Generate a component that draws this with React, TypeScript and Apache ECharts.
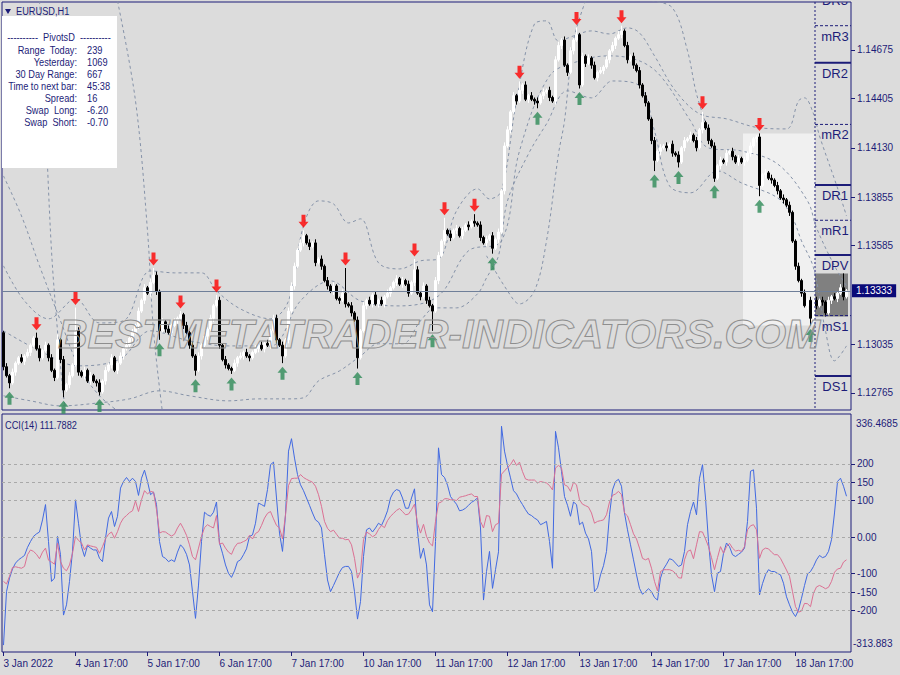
import React, { useEffect, useRef } from "react";
import * as echarts from "echarts";

const tickLabels = ["3 Jan 2022", "4 Jan 17:00", "5 Jan 17:00", "6 Jan 17:00", "7 Jan 17:00", "10 Jan 17:00", "11 Jan 17:00", "12 Jan 17:00", "13 Jan 17:00", "14 Jan 17:00", "17 Jan 17:00", "18 Jan 17:00"];

const firstOpen = 1.131;
const closes = [
  1.1291, 1.1286, 1.1282, 1.1288, 1.1293, 1.1296, 1.1294, 1.1297, 1.1299, 1.1303, 1.1307, 1.1301, 1.1296, 1.13, 1.1303, 1.1296, 1.1289, 1.1285, 1.1306, 1.1295, 1.1278, 1.1281, 1.1286, 1.1292,
  1.1311, 1.1288, 1.1286, 1.1289, 1.1283, 1.1286, 1.1283, 1.1282, 1.1277, 1.1283, 1.1289, 1.1292, 1.1296, 1.1289, 1.1293, 1.1297, 1.1301, 1.1303, 1.1307, 1.131, 1.1314, 1.1322, 1.1328, 1.1335,
  1.1332, 1.1338, 1.1342, 1.1333, 1.1311, 1.1316, 1.1312, 1.131, 1.1314, 1.1317, 1.1318, 1.132, 1.1314, 1.131, 1.1303, 1.1297, 1.1289, 1.1297, 1.1303, 1.1308, 1.1312, 1.1318, 1.1325, 1.1328,
  1.1303, 1.1295, 1.1292, 1.129, 1.1289, 1.1293, 1.1296, 1.1297, 1.1299, 1.1297, 1.1296, 1.1299, 1.1301, 1.1303, 1.1301, 1.1304, 1.1303, 1.1311, 1.1318, 1.1306, 1.1303, 1.1297, 1.1306, 1.1322,
  1.1336, 1.1347, 1.1356, 1.136, 1.1364, 1.136, 1.1358, 1.136, 1.1349, 1.1351, 1.1347, 1.1339, 1.1336, 1.1333, 1.1336, 1.1329, 1.1328, 1.1332, 1.1326, 1.1325, 1.1321, 1.1317, 1.1296, 1.1311,
  1.1325, 1.1328, 1.1326, 1.1331, 1.1326, 1.1328, 1.1326, 1.133, 1.1332, 1.1335, 1.1338, 1.134, 1.1337, 1.1339, 1.1337, 1.1332, 1.1338, 1.1345, 1.1332, 1.133, 1.1336, 1.1328, 1.1325, 1.1322,
  1.1339, 1.1353, 1.1361, 1.1367, 1.1365, 1.1363, 1.1367, 1.1368, 1.1364, 1.1367, 1.137, 1.1369, 1.1372, 1.1371, 1.137, 1.1363, 1.136, 1.1362, 1.1364, 1.1357, 1.1362, 1.1366, 1.1389, 1.1414,
  1.1423, 1.1433, 1.1442, 1.1439, 1.1445, 1.1448, 1.144, 1.1442, 1.144, 1.1439, 1.1438, 1.1442, 1.1444, 1.1445, 1.1441, 1.1439, 1.1462, 1.147, 1.1473, 1.1459, 1.1455, 1.1467, 1.1473, 1.1476,
  1.1448, 1.1464, 1.146, 1.1463, 1.1459, 1.1452, 1.1455, 1.1456, 1.1458, 1.1462, 1.1467, 1.147, 1.1474, 1.1476, 1.1478, 1.147, 1.1462, 1.1464, 1.1459, 1.1456, 1.1448, 1.1442, 1.1438, 1.1429,
  1.1417, 1.1406, 1.1411, 1.1413, 1.1414, 1.1413, 1.1415, 1.141, 1.1409, 1.1405, 1.1413, 1.1417, 1.1418, 1.142, 1.1417, 1.1413, 1.1423, 1.1427, 1.1424, 1.1417, 1.1414, 1.1396, 1.1403, 1.1406,
  1.1405, 1.141, 1.1411, 1.1408, 1.1405, 1.1407, 1.1405, 1.1406, 1.141, 1.1414, 1.1418, 1.1419, 1.1392, 1.1398, 1.1399, 1.1396, 1.1395, 1.1392, 1.1389, 1.1385, 1.1384, 1.1381, 1.1377, 1.1361,
  1.1347, 1.1339, 1.1332, 1.1325, 1.1328, 1.1318, 1.1328, 1.1325, 1.1328, 1.1327, 1.1321, 1.1328, 1.133, 1.1329, 1.1332, 1.1335, 1.133, 1.13333,
];
// wick lengths in pips above max(open, close) and below min(open, close)
const upWick = [
  1, 2, 1, 2, 1, 1, 2, 1, 2, 1, 1, 3, 2, 1, 2, 1, 2, 1, 3, 1, 2, 1, 2, 1,
  13, 2, 1, 2, 1, 2, 1, 1, 2, 1, 2, 1, 2, 1, 1, 2, 1, 2, 1, 2, 1, 2, 1, 2,
  1, 2, 4, 2, 1, 2, 1, 2, 1, 1, 1, 2, 1, 2, 1, 2, 1, 2, 1, 2, 1, 2, 1, 3,
  2, 1, 2, 1, 1, 2, 1, 2, 1, 2, 1, 1, 2, 1, 2, 1, 2, 1, 2, 2, 1, 2, 1, 2,
  2, 2, 1, 2, 3, 1, 2, 1, 2, 1, 2, 1, 2, 1, 2, 1, 1, 2, 14, 1, 2, 1, 2, 1,
  2, 1, 2, 1, 2, 1, 2, 1, 2, 1, 1, 2, 1, 2, 1, 2, 1, 6, 2, 1, 2, 1, 2, 1,
  2, 2, 1, 7, 1, 2, 1, 2, 1, 2, 1, 2, 1, 4, 1, 2, 1, 2, 1, 2, 1, 2, 1, 2,
  2, 1, 2, 1, 5, 1, 2, 1, 2, 1, 2, 1, 2, 1, 2, 1, 2, 2, 1, 2, 1, 2, 1, 4,
  1, 2, 1, 2, 1, 2, 1, 2, 1, 2, 1, 2, 1, 2, 3, 1, 2, 1, 2, 1, 2, 1, 2, 1,
  1, 2, 1, 2, 1, 2, 1, 2, 1, 2, 1, 2, 1, 2, 1, 2, 1, 6, 1, 2, 1, 2, 1, 2,
  1, 2, 1, 2, 1, 2, 1, 2, 1, 2, 1, 1, 2, 1, 2, 1, 2, 1, 2, 1, 2, 1, 2, 1,
  1, 2, 1, 2, 1, 2, 1, 2, 1, 2, 1, 2, 1, 2, 1, 2, 8, 1,
];
const dnWick = [
  2, 1, 3, 1, 2, 1, 1, 2, 1, 2, 1, 1, 2, 1, 1, 2, 1, 2, 1, 2, 4, 1, 2, 1,
  1, 2, 1, 2, 1, 2, 1, 2, 2, 1, 2, 1, 2, 1, 2, 1, 2, 1, 1, 2, 1, 2, 1, 2,
  1, 2, 1, 2, 5, 1, 2, 1, 2, 1, 2, 1, 2, 1, 2, 1, 3, 1, 2, 1, 2, 1, 2, 1,
  2, 1, 2, 1, 2, 1, 2, 1, 2, 1, 2, 1, 1, 2, 1, 2, 1, 2, 1, 2, 1, 4, 1, 2,
  1, 2, 1, 1, 2, 1, 2, 1, 2, 1, 2, 1, 2, 1, 2, 1, 2, 1, 2, 1, 2, 1, 6, 1,
  1, 2, 1, 2, 1, 2, 1, 2, 1, 2, 1, 2, 1, 2, 1, 2, 1, 2, 1, 2, 1, 2, 1, 11,
  1, 2, 1, 2, 1, 2, 1, 2, 1, 2, 1, 2, 1, 2, 1, 2, 1, 2, 1, 3, 1, 2, 1, 2,
  1, 2, 1, 2, 1, 2, 1, 2, 1, 2, 3, 1, 2, 1, 2, 1, 2, 1, 2, 1, 2, 1, 2, 1,
  2, 1, 2, 1, 2, 1, 2, 1, 2, 1, 2, 1, 2, 1, 2, 1, 2, 1, 2, 1, 2, 1, 2, 1,
  2, 6, 1, 2, 1, 2, 1, 2, 1, 3, 1, 2, 1, 2, 1, 2, 1, 2, 1, 2, 1, 2, 1, 2,
  1, 2, 1, 2, 1, 2, 1, 2, 1, 2, 1, 2, 6, 1, 2, 1, 2, 1, 2, 1, 2, 1, 2, 1,
  2, 1, 2, 1, 2, 4, 1, 2, 1, 2, 2, 1, 2, 1, 2, 1, 2, 1,
];

const downFractalBars = [11, 24, 50, 59, 71, 100, 114, 137, 147, 157, 172, 191, 206, 233, 252];
const upFractalBars = [2, 20, 32, 52, 64, 76, 93, 118, 143, 163, 178, 192, 217, 225, 237, 252, 269];

const cciMain = [
  -295, -149, -112, -87, -71, -62, -56, -50, -28, -12, 2, 9, 14, 47, 89, -12, -121, -112, 2, -48, -213, -185, -121, -39,
  102, 38, -26, -53, -23, -30, -35, -35, -58, -67, -3, 52, 70, 29, 57, 134, 152, 163, 152, 161, 152, 114, 161, 183,
  152, 116, 123, 89, -12, -53, -58, -67, -62, -67, -41, -21, -30, -47, -76, -149, -222, -131, -12, 68, 61, 57, 68, 96,
  -16, -44, -76, -99, -110, -92, -67, -62, -48, -32, 2, 6, 38, 93, 89, 84, 130, 198, 205, 107, 11, -39, 61, 235,
  269, 216, 171, 143, 127, 107, 87, 66, 47, 41, 25, -48, -117, -149, -132, -114, -96, -83, -80, -80, -94, -149, -224, -176,
  -53, 20, 25, 14, 25, 38, 32, 50, 72, 107, 123, 130, 127, 107, 79, 79, 107, 132, 16, -58, -30, -76, -185, -204,
  -12, 244, 171, 163, 142, 111, 100, 90, 72, 74, 79, 87, 95, 100, 107, 25, -172, -94, -39, -140, -89, -40, 303, 235,
  196, 162, 127, 118, 102, 89, 75, 63, 59, 52, 47, 34, 38, 43, -12, -85, 289, 244, 180, 111, 87, 57, 96, 89,
  34, 41, 11, -5, -39, -149, -138, -103, -78, -39, 61, 129, 152, 158, 139, 66, 20, -21, -62, -103, -140, -156, -149, -141,
  -149, -165, -172, -112, -87, -74, -59, -62, -71, -80, -76, -39, 34, 70, 96, 61, 161, 198, 107, -12, -103, -149, -98, -94,
  -44, -16, -26, -48, -53, -47, -41, -30, 43, 180, 184, 79, -158, -127, -103, -89, -94, -94, -99, -103, -126, -163, -185, -205,
  -217, -199, -167, -132, -101, -94, -80, -62, -50, -56, -53, -39, -7, 66, 152, 161, 139, 111.7882,
];
const cciSignal = [
  -121, -128, -107, -83, -81, -83, -85, -80, -48, -35, -39, -47, -59, -41, -30, -63, -68, -74, -16, -67, -85, -92, -76, -44,
  2, -9, -16, -35, -21, -24, -26, -28, -44, -26, -5, 8, 14, -3, 15, 38, 52, 59, 67, 72, 99, 70, 102, 127,
  118, 125, 123, 75, 11, 15, 14, 8, 3, 8, 25, 38, 23, 5, -21, -53, -62, -30, 2, 26, 34, 29, 25, 59,
  -19, -16, -30, -41, -47, -28, -17, -16, -12, -8, 5, -5, 10, 15, 32, 52, 65, 70, 50, 32, 25, -5, 61, 141,
  160, 161, 161, 171, 163, 158, 154, 150, 139, 116, 84, 43, 24, 15, 19, 8, -3, -3, -7, -6, -21, -58, -112, -94,
  -7, 14, 9, 1, 6, 21, 32, 26, 45, 57, 65, 73, 78, 70, 61, 63, 75, 90, 38, 11, 35, 2, -16, -24,
  43, 93, 96, 105, 105, 102, 102, 100, 109, 111, 113, 116, 118, 111, 111, 43, 25, 59, 57, 15, 34, 38, 172, 181,
  190, 198, 212, 196, 205, 179, 159, 156, 156, 156, 148, 152, 150, 148, 141, 129, 189, 196, 189, 143, 139, 125, 150, 143,
  102, 90, 86, 82, 66, 38, 43, 45, 47, 61, 96, 114, 118, 125, 116, 66, 58, 34, 9, -5, -30, -58, -62, -58,
  -85, -121, -147, -94, -89, -89, -89, -92, -99, -111, -112, -62, -39, -35, -59, -21, 15, 14, -5, -26, -56, -89, -56, -26,
  -44, -26, -17, -30, -38, -36, -39, -26, 20, 31, 34, 20, -58, -35, -30, -32, -41, -48, -48, -58, -74, -90, -107, -149,
  -190, -205, -202, -181, -182, -190, -153, -136, -132, -136, -141, -137, -121, -96, -87, -85, -68, -62,
];

const priceTicks = [1.12765, 1.13035, 1.13585, 1.13855, 1.1413, 1.14405, 1.14675];
const priceMin = 1.12669;
const priceMax = 1.14942;
const cciTicks = [200, 150, 100, 0, -100, -150, -200];
const cciMax = 336.4685;
const cciMin = -313.883;

const pivotNames = ["DR3", "mR3", "DR2", "mR2", "DR1", "mR1", "DPV", "mS1", "DS1", "mS2"];
const pivotValues = [1.1501, 1.1481, 1.14603, 1.1426, 1.13923, 1.13726, 1.13533, 1.13195, 1.12859, 1.1266];
const pivotStartBar = 271;
// [startBar, endBar, high, low, kind]
const rangeBoxes = [
  [247, 270, 1.1421, 1.1314, 0],
  [271, 281, 1.1343, 1.1319, 1],
];

const bandUpper = [[0, 1.13472], [7, 1.13277], [15, 1.13177], [24, 1.13288], [32, 1.13154], [40, 1.13166], [49, 1.13444], [57, 1.13433], [66, 1.13433], [71, 1.13333], [79, 1.13232], [89, 1.13177], [95, 1.13277], [100, 1.13695], [105, 1.13834], [110, 1.13817], [115, 1.13711], [119, 1.13734], [125, 1.13489], [132, 1.13455], [139, 1.135], [145, 1.13511], [151, 1.13778], [158, 1.13901], [162, 1.13845], [166, 1.1389], [171, 1.14391], [177, 1.1482], [181, 1.14837], [185, 1.14725], [190, 1.14753], [196, 1.14781], [202, 1.14764], [208, 1.14798], [212, 1.1477], [217, 1.14642], [224, 1.14447], [232, 1.14319], [241, 1.14291], [252, 1.14241], [261, 1.14235], [265, 1.14391], [267, 1.14408], [270, 1.14319], [272, 1.14196], [278, 1.13906], [281, 1.1375]];
const bandMid = [[0, 1.1311], [12, 1.12999], [25, 1.12915], [39, 1.12954], [49, 1.1311], [62, 1.13054], [75, 1.13026], [89, 1.13026], [99, 1.13277], [109, 1.13388], [119, 1.13277], [132, 1.13249], [145, 1.13305], [155, 1.13556], [166, 1.13611], [172, 1.14112], [182, 1.1453], [192, 1.14614], [202, 1.14642], [212, 1.14614], [219, 1.1453], [229, 1.1428], [235, 1.14129], [246, 1.14112], [258, 1.1404], [268, 1.13834], [271, 1.13684], [277, 1.13472], [281, 1.13361]];
const bandLower = [[0, 1.12748], [9, 1.1272], [19, 1.12692], [32, 1.12709], [42, 1.12731], [52, 1.12776], [62, 1.12748], [75, 1.1272], [85, 1.12731], [95, 1.12731], [100, 1.12737], [105, 1.12831], [112, 1.12887], [119, 1.1297], [125, 1.13038], [133, 1.13038], [139, 1.13166], [144, 1.13238], [151, 1.13238], [158, 1.13316], [161, 1.13405], [165, 1.13528], [168, 1.13834], [175, 1.14096], [181, 1.14263], [188, 1.14447], [196, 1.14408], [203, 1.14502], [212, 1.14475], [217, 1.14224], [222, 1.13918], [229, 1.13879], [238, 1.14001], [246, 1.13934], [258, 1.13851], [263, 1.13739], [266, 1.13611], [270, 1.13461], [274, 1.1311], [277, 1.12943], [281, 1.13026]];
const wildA = [[0, 1.13973], [6, 1.1375], [12, 1.13472], [19, 1.13166], [25, 1.12915], [32, 1.12748], [39, 1.12653]];
const wildB = [[12, 1.14948], [14, 1.1428], [16, 1.13556], [18, 1.1311], [20, 1.12748], [21, 1.12653]];
const wildC = [[38, 1.14948], [44, 1.14391], [48, 1.13667], [50, 1.1311], [53, 1.12653]];
const wildD = [[161, 1.13528], [168, 1.13333], [172, 1.1326], [177, 1.13333], [181, 1.13611], [185, 1.14096], [187, 1.1428], [190, 1.14725], [194, 1.14948]];
const wildE = [[216, 1.14948], [223, 1.14909], [228, 1.1467], [231, 1.1443], [235, 1.14224]];

const infoLabels = ["Range  Today:", "Yesterday:", "30 Day Range:", "Time to next bar:", "Spread:", "Swap  Long:", "Swap  Short:"];
const infoValues = ["239", "1069", "667", "45:38", "16", "-6.20", "-0.70"];

const NAVY = "#1c1c78";
const FONT = '"Liberation Sans", Arial, sans-serif';
const BG = "#dcdcdc";
const NARROW = 0.84;

export default function App() {
  const ref = useRef<HTMLDivElement>(null);
  useEffect(() => {
    if (!ref.current) return;
    const chart = echarts.init(ref.current, undefined, { renderer: "svg" });
    const nBars = closes.length;
    const cats = Array.from({ length: nBars + 1 }, (_, i) => String(i));
    const opens = closes.map((c, i) => (i === 0 ? firstOpen : closes[i - 1]));
    const highs = closes.map((c, i) => Math.max(opens[i], c) + upWick[i] / 10000);
    const lows = closes.map((c, i) => Math.min(opens[i], c) - dnWick[i] / 10000);
    const candles = closes.map((c, i) => [opens[i], c, lows[i], highs[i]]);
    const lastPrice = closes[nBars - 1];

    const bandStyle = { color: "#8592a8", width: 1, type: [3, 3] as any };
    const band = (name: string, data: number[][], extra: any = {}) => ({
      name, type: "line", xAxisIndex: 0, yAxisIndex: 0, data, smooth: 0.35, symbol: "none",
      lineStyle: bandStyle, z: 2, silent: true, connectNulls: true, ...extra,
    });

    const downArrow = "path://M3,0 L7,0 L7,7 L10,7 L5,13 L0,7 L3,7 Z";
    const upArrow = "path://M5,0 L10,6 L7,6 L7,13 L3,13 L3,6 L0,6 Z";

    const txt = { fontSize: 11, fontFamily: FONT, fill: NAVY, textVerticalAlign: "middle", verticalAlign: "middle" };

    const graphics: any[] = [
      { type: "rect", z: 100, shape: { x: 2, y: 16, width: 115, height: 152 }, style: { fill: "#ffffff" }, silent: true },
      { type: "text", z: 101, x: 59, y: 37, scaleX: NARROW, style: { ...txt, text: "----------  PivotsD  ----------", textAlign: "center", align: "center" } },
      { type: "polygon", z: 101, shape: { points: [[5, 9], [11, 9], [8, 14]] }, style: { fill: NAVY } },
      { type: "text", z: 101, x: 16, y: 11, scaleX: NARROW, style: { ...txt, text: "EURUSD,H1" } },
      { type: "text", z: 101, x: 5, y: 425, scaleX: NARROW, style: { ...txt, text: `CCI(14) ${cciMain[nBars - 1].toFixed(4)}` } },
      { type: "text", z: 101, x: 856, y: 423, style: { ...txt, fontSize: 10, text: cciMax.toFixed(4) } },
      { type: "text", z: 101, x: 853, y: 643, style: { ...txt, fontSize: 10, text: cciMin.toFixed(3) } },
      { type: "text", z: 90, x: 58, y: 334, silent: true, style: { text: "BESTMETATRADER-INDICATORS.COM", fontSize: 41, fontStyle: "italic", fontWeight: "bold", fontFamily: FONT, fill: "rgba(0,0,0,0)", stroke: "#8e8e8e", lineWidth: 1, textVerticalAlign: "middle", verticalAlign: "middle" } },
    ];
    infoLabels.forEach((t, k) => {
      const y = 50 + k * 12.1;
      graphics.push({ type: "text", z: 101, x: 77, y, scaleX: NARROW, style: { ...txt, text: t, textAlign: "right", align: "right" } });
      graphics.push({ type: "text", z: 101, x: 87, y, scaleX: NARROW, style: { ...txt, text: infoValues[k] } });
    });

    const option: any = {
      animation: false,
      backgroundColor: BG,
      grid: [
        { left: 2, top: 2, width: 849, height: 408, show: true, borderColor: NAVY, borderWidth: 1, backgroundColor: "transparent" },
        { left: 2, top: 414, width: 849, height: 238, show: true, borderColor: NAVY, borderWidth: 1, backgroundColor: "transparent" },
      ],
      xAxis: [
        { type: "category", gridIndex: 0, data: cats, boundaryGap: true, axisLine: { show: false, onZero: false }, axisTick: { show: false }, axisLabel: { show: false }, splitLine: { show: false } },
        {
          type: "category", gridIndex: 1, data: cats, boundaryGap: true, position: "bottom",
          axisLine: { show: false, onZero: false },
          axisTick: { show: true, alignWithLabel: true, interval: (i: number) => i % 24 === 0 && i < nBars, length: 4, lineStyle: { color: NAVY } },
          axisLabel: { show: true, interval: (i: number) => i % 24 === 0 && i < nBars, formatter: (_v: string, i: number) => tickLabels[i / 24] ?? "", align: "left", color: NAVY, fontSize: 10, fontFamily: FONT, margin: 6 },
          splitLine: { show: false },
        },
      ],
      yAxis: [
        {
          type: "value", gridIndex: 0, position: "right", min: priceMin, max: priceMax, scale: true,
          axisLine: { show: false },
          axisTick: { show: true, customValues: priceTicks, length: 4, lineStyle: { color: NAVY } },
          axisLabel: { show: true, customValues: priceTicks, formatter: (v: number) => v.toFixed(5), color: NAVY, fontSize: 10, fontFamily: FONT, margin: 6 },
          splitLine: { show: false },
        },
        {
          type: "value", gridIndex: 1, position: "right", min: cciMin, max: cciMax,
          axisLine: { show: false },
          axisTick: { show: true, customValues: cciTicks, length: 4, lineStyle: { color: NAVY } },
          axisLabel: { show: true, customValues: cciTicks, formatter: (v: number) => (v === 0 ? "0.00" : String(v)), color: NAVY, fontSize: 10, fontFamily: FONT, margin: 6 },
          splitLine: { show: false },
        },
      ],
      series: [
        {
          name: "ranges", type: "custom", xAxisIndex: 0, yAxisIndex: 0, z: 1, silent: true,
          data: rangeBoxes, encode: { x: [0, 1], y: [2, 3] },
          renderItem: (params: any, api: any) => {
            const p1 = api.coord([api.value(0), api.value(2)]);
            const p2 = api.coord([api.value(1), api.value(3)]);
            const w = api.size([1, 0])[0];
            return { type: "rect", shape: { x: p1[0] - w / 2, y: p1[1], width: p2[0] - p1[0] + w, height: p2[1] - p1[1] }, style: { fill: api.value(4) === 0 ? "#f0f0f0" : "#808080" } };
          },
        },
        band("upper", bandUpper, {
          markLine: {
            silent: true, symbol: ["none", "none"], animation: false, precision: 5,
            lineStyle: { color: "#6f7f99", type: "solid", width: 1 },
            label: { show: true, position: "end", distance: 1, formatter: () => lastPrice.toFixed(5), backgroundColor: "#0a0a78", color: "#ffffff", padding: [2, 4, 1, 4], fontSize: 10, fontFamily: FONT },
            data: [{ yAxis: lastPrice }],
          },
        }),
        band("mid", bandMid),
        band("lower", bandLower),
        band("wA", wildA),
        band("wB", wildB),
        band("wC", wildC),
        band("wD", wildD),
        band("wE", wildE),
        {
          name: "EURUSD", type: "candlestick", xAxisIndex: 0, yAxisIndex: 0, z: 3, data: candles, barWidth: 2,
          itemStyle: { color: "#ffffff", color0: "#000000", borderColor: "#ffffff", borderColor0: "#000000", borderWidth: 1 },
        },
        {
          name: "pivots", type: "custom", xAxisIndex: 0, yAxisIndex: 0, z: 4, silent: true, clip: true,
          data: pivotValues.map((v) => [pivotStartBar, v]), encode: { x: 0, y: 1 },
          renderItem: (params: any, api: any) => {
            const cs = params.coordSys;
            const pt = api.coord([api.value(0), api.value(1)]);
            const x0 = pt[0] - api.size([1, 0])[0] / 2;
            const x1 = cs.x + cs.width;
            const y = pt[1];
            const name = pivotNames[params.dataIndex];
            const solid = name.charAt(0) === "D";
            const children: any[] = [
              { type: "line", shape: { x1: x0, y1: y, x2: x1, y2: y }, style: { stroke: NAVY, lineWidth: solid ? 2 : 1, lineDash: solid ? null : [3, 2] } },
              { type: "text", style: { text: name, x: (x0 + x1) / 2 + 2, y: y + 4, textAlign: "center", align: "center", textVerticalAlign: "top", verticalAlign: "top", fontSize: 13, fontFamily: FONT, fill: NAVY } },
            ];
            if (params.dataIndex === 0) {
              children.push({ type: "line", shape: { x1: x0, y1: cs.y, x2: x0, y2: cs.y + cs.height }, style: { stroke: NAVY, lineWidth: 1, lineDash: [2, 2] } });
            }
            return { type: "group", children };
          },
        },
        {
          name: "fractalUp", type: "scatter", xAxisIndex: 0, yAxisIndex: 0, z: 5, silent: true,
          data: downFractalBars.map((i) => [i, highs[i]]), symbol: downArrow, symbolSize: [10, 13], symbolOffset: [0, -9],
          itemStyle: { color: "#ff0000" },
        },
        {
          name: "fractalDown", type: "scatter", xAxisIndex: 0, yAxisIndex: 0, z: 5, silent: true,
          data: upFractalBars.map((i) => [i, lows[i]]), symbol: upArrow, symbolSize: [10, 13], symbolOffset: [0, 10],
          itemStyle: { color: "#2e8b57" },
        },
        {
          name: "CCI", type: "line", xAxisIndex: 1, yAxisIndex: 1, data: cciMain, symbol: "none", z: 3,
          lineStyle: { color: "#4169e1", width: 1 },
          markLine: {
            silent: true, symbol: ["none", "none"], animation: false, label: { show: false },
            lineStyle: { color: "#a9a9a9", type: [3, 3], width: 1 },
            data: cciTicks.map((v) => ({ yAxis: v })),
          },
        },
        {
          name: "Signal", type: "line", xAxisIndex: 1, yAxisIndex: 1, data: cciSignal, symbol: "none", z: 4,
          lineStyle: { color: "#db7093", width: 1 },
        },
      ],
      graphic: graphics,
    };
    chart.setOption(option);
    return () => chart.dispose();
  }, []);
  return <div ref={ref} style={{ position: "fixed", left: 0, top: 0, width: 900, height: 675 }} />;
}
